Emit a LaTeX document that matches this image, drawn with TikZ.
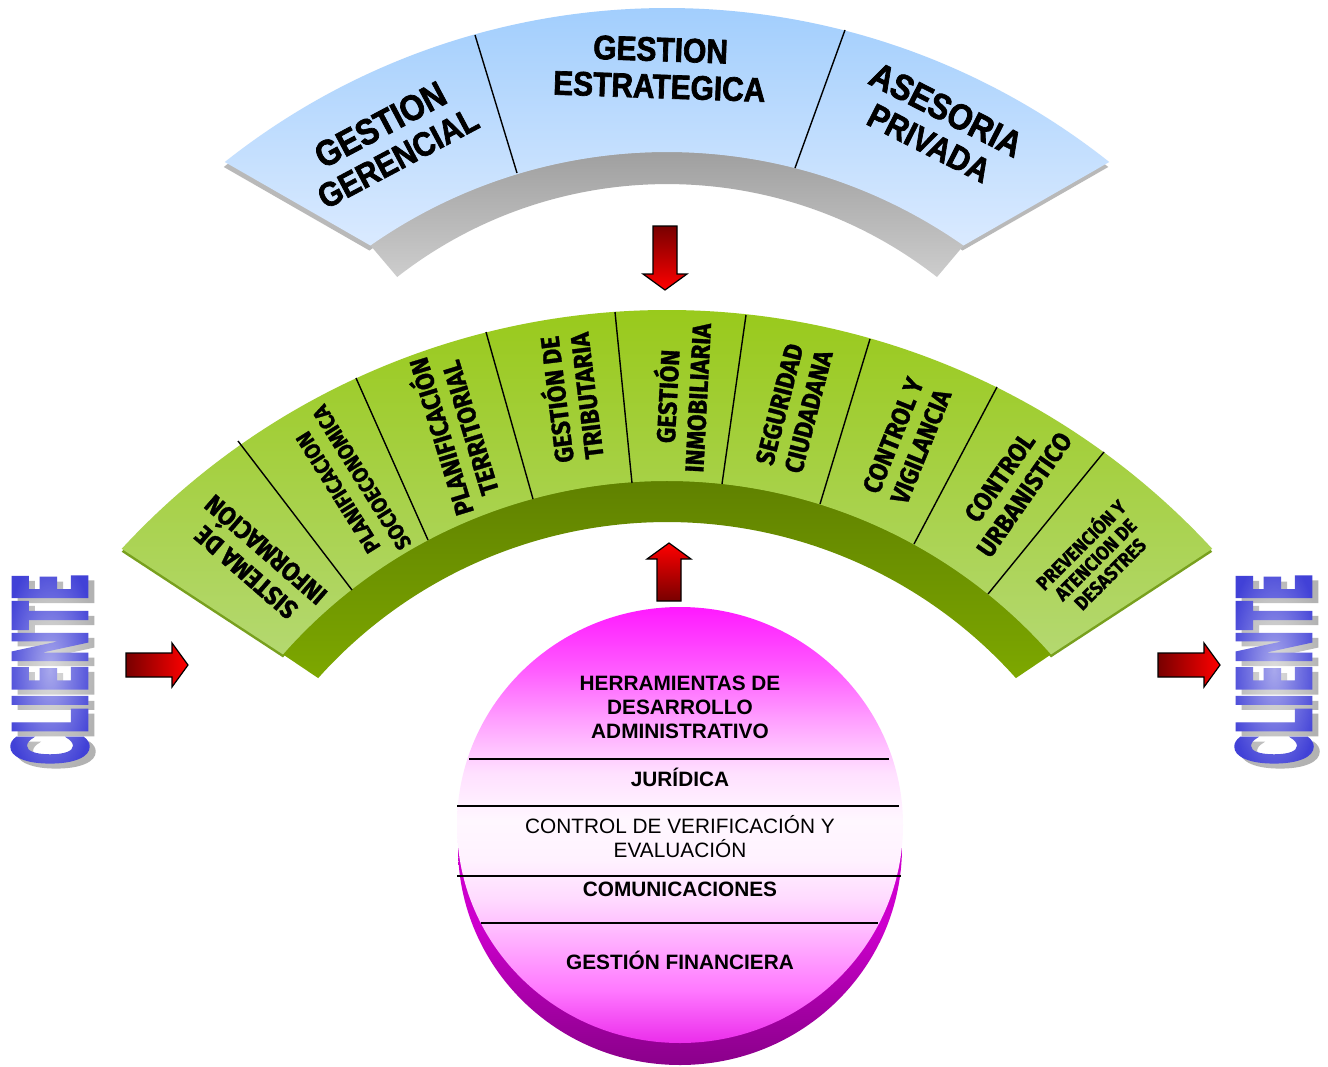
\documentclass[tikz,border=0pt]{standalone}
\usepackage{fontspec}
\usepackage{graphicx}
\setmainfont{Liberation Sans}
\newfontfamily\topfont[FakeStretch=0.88,FakeBold=2]{Liberation Sans}
\newfontfamily\gfont[FakeStretch=0.92,FakeBold=1.2]{Fira Sans}
\newfontfamily\clifont[FakeBold=3]{DejaVu Sans}
\usetikzlibrary{calc,fadings}

\definecolor{blueTop}{RGB}{150,200,252}
\definecolor{blueBot}{RGB}{218,234,255}
\definecolor{greyTop}{RGB}{148,148,148}
\definecolor{greyBot}{RGB}{205,205,205}
\definecolor{greenTop}{RGB}{150,200,18}
\definecolor{greenBot}{RGB}{180,216,112}
\definecolor{greenEdge}{RGB}{120,160,30}
\definecolor{dgreenTop}{RGB}{92,124,0}
\definecolor{dgreenBot}{RGB}{125,168,0}
\definecolor{arrowDark}{RGB}{120,0,0}
\definecolor{arrowRed}{RGB}{255,0,0}
\definecolor{cliBlue}{RGB}{65,65,215}
\definecolor{cliShadow}{RGB}{178,178,178}
\definecolor{mA}{RGB}{235,45,235}
\definecolor{mB}{RGB}{255,120,255}
\definecolor{mC}{RGB}{255,178,255}
\definecolor{mD}{RGB}{255,218,255}
\definecolor{mE}{RGB}{255,242,255}
\definecolor{mF}{RGB}{255,247,255}
\definecolor{mG}{RGB}{255,224,255}
\definecolor{mH}{RGB}{255,160,255}
\definecolor{mI}{RGB}{255,90,255}
\definecolor{mJ}{RGB}{255,25,255}
\definecolor{pA}{RGB}{120,0,120}
\definecolor{pB}{RGB}{138,0,138}
\definecolor{pC}{RGB}{170,0,170}
\definecolor{pD}{RGB}{205,0,205}

\pgfdeclareverticalshading{discface}{100bp}{color(0bp)=(mA); color(25bp)=(mA); color(31bp)=(mB); color(37bp)=(mC); color(41.5bp)=(mD); color(46bp)=(mE); color(50.5bp)=(mF); color(56bp)=(mG); color(62bp)=(mH); color(68bp)=(mI); color(75bp)=(mJ); color(100bp)=(mJ)}
\pgfdeclareverticalshading{discside}{100bp}{color(0bp)=(pA); color(25bp)=(pB); color(33bp)=(pC); color(41bp)=(pD); color(100bp)=(pD)}
\tikzfading[name=cliglow, inner color=transparent!45, outer color=transparent!100]

\begin{document}
\begin{tikzpicture}[x=1pt,y=-1pt,
  toplabel/.style={font=\topfont\bfseries\fontsize{34}{37}\selectfont, align=center, inner sep=0pt},
  glabel/.style={font=\gfont\bfseries\fontsize{26}{30}\selectfont, align=center, inner sep=0pt},
  clabel/.style={font=\bfseries\fontsize{20.8}{24}\selectfont, align=center, inner sep=0pt},
  divider/.style={draw=black, line width=1.4pt},
  sepline/.style={draw=black, line width=1.8pt},
  blockarrow/.style={draw=black, line width=1.2pt, line join=miter},
  cliword/.style={inner sep=0pt, rotate=90},
]
\fill[white] (0,0) rectangle (1328,1066);
\useasboundingbox (0,0) rectangle (1328,1066);

% ================= top (blue) band =================
\begin{scope}[shift={(-1,5)}]
\fill[gray!55] (224.8,162) arc[start angle=-128.4,end angle=-51.6,radius=712]
   -- (963.5,245.5) arc[start angle=-55,end angle=-125,radius=517] -- cycle;
\end{scope}
\path[top color=greyTop, bottom color=greyBot] (370.5,245.5) arc[start angle=-125,end angle=-55,radius=517]
   -- (937,277) arc[start angle=-52,end angle=-128,radius=438.4] -- cycle;
\path[top color=blueTop, bottom color=blueBot] (224.8,162) arc[start angle=-128.4,end angle=-51.6,radius=712]
   -- (963.5,245.5) arc[start angle=-55,end angle=-125,radius=517] -- cycle;
\draw[divider] (475,35) -- (517,173);
\draw[divider] (845,30) -- (795,168);

\node[toplabel, rotate=28] (tgg) at (389,141) {\fontsize{36}{43}\selectfont GESTION\\GERENCIAL};
\node[toplabel, rotate=-2] (tge) at (660,68) {GESTION\\ESTRATEGICA};
\node[toplabel, rotate=-27] (tap) at (938,126) {\fontsize{36}{38}\selectfont ASESORIA\\PRIVADA};

% ================= middle (green) band =================
\begin{scope}[shift={(0,3)}]
\fill[greenEdge] (121.7,548.8) arc[start angle=-137.3,end angle=-42.7,radius=742]
   -- (1051,654.4) arc[start angle=-41.4,end angle=-138.6,radius=512] -- cycle;
\end{scope}
\path[top color=dgreenTop, bottom color=dgreenBot] (283,654.4) arc[start angle=-138.6,end angle=-41.4,radius=512]
   -- (1015.9,678.1) arc[start angle=-41.8,end angle=-138.2,radius=468] -- cycle;
\path[top color=greenTop, bottom color=greenBot] (121.7,548.8) arc[start angle=-137.3,end angle=-42.7,radius=742]
   -- (1051,654.4) arc[start angle=-41.4,end angle=-138.6,radius=512] -- cycle;

\draw[divider] (238,441) -- (352,590);
\draw[divider] (356,378) -- (428,540);
\draw[divider] (486,332) -- (533,499);
\draw[divider] (615,312) -- (632,483);
\draw[divider] (746,315) -- (722,484);
\draw[divider] (870,339) -- (820,504);
\draw[divider] (997,387) -- (914,544);
\draw[divider] (1104,452) -- (988,594);

\node[glabel, rotate=139] (g1) at (256,561) {SISTEMA DE\\INFORMACIÓN};
\node[glabel, rotate=122, font=\gfont\bfseries\fontsize{22}{28}\selectfont] (g2) at (350,485) {PLANIFICACION\\SOCIOECONOMICA};
\node[glabel, rotate=107] (g3) at (453,433) {PLANIFICACIÓN\\TERRITORIAL};
\node[glabel, rotate=97] (g4) at (569,398) {GESTIÓN DE\\TRIBUTARIA};
\node[glabel, rotate=87] (g5) at (680,397) {GESTIÓN\\INMOBILIARIA};
\node[glabel, rotate=75.5] (g6) at (794,408) {SEGURIDAD\\CIUDADANA};
\node[glabel, rotate=68] (g7) at (907,441) {CONTROL Y\\VIGILANCIA};
\node[glabel, rotate=55] (g8) at (1012,486) {CONTROL\\URBANISTICO};
\node[glabel, rotate=45, font=\gfont\bfseries\fontsize{19.5}{20.5}\selectfont] (g9) at (1094,558) {PREVENCIÓN Y\\ATENCION DE\\DESASTRES};

% ================= block arrows =================
\path[blockarrow, top color=arrowDark, bottom color=arrowRed]
  (653,226) -- (677,226) -- (677,274) -- (687,274) -- (665,290) -- (643,274) -- (653,274) -- cycle;
\path[blockarrow, top color=arrowRed, bottom color=arrowDark]
  (669,543) -- (691,559) -- (681,559) -- (681,601) -- (657,601) -- (657,559) -- (647,559) -- cycle;
\path[blockarrow, left color=arrowDark, right color=arrowRed]
  (126,653) -- (172,653) -- (172,643) -- (188,665) -- (172,687) -- (172,677) -- (126,677) -- cycle;
\path[blockarrow, left color=arrowDark, right color=arrowRed]
  (1158,653) -- (1204,653) -- (1204,643) -- (1220,665) -- (1204,687) -- (1204,677) -- (1158,677) -- cycle;

% ================= disc =================
\path[shading=discside] (680,847) ellipse[x radius=222,y radius=218];
\path[shading=discface] (680,825) ellipse[x radius=223,y radius=218];
\draw[sepline] (469,759) -- (889,759);
\draw[sepline] (457,806) -- (899,806);
\draw[sepline] (457,876) -- (901,876);
\draw[sepline] (481,923) -- (878,923);

\node[clabel] (herr) at (680,707) {HERRAMIENTAS DE\\DESARROLLO\\ADMINISTRATIVO};
\node[clabel, anchor=base] (jur) at (680,786) {JURÍDICA};
\node[clabel, font=\fontsize{20.8}{24}\selectfont] (ctrl) at (680,837) {CONTROL DE VERIFICACIÓN Y\\EVALUACIÓN};
\node[clabel, anchor=base] (com) at (680,896) {COMUNICACIONES};
\node[clabel, anchor=base] (fin) at (680,969) {GESTIÓN FINANCIERA};

% ================= CLIENTE =================
\node[cliword, text=cliShadow] (cls) at (56,674) {\resizebox{192pt}{75pt}{\clifont\bfseries CLIENTE}};
\node[cliword, text=cliBlue] (cl) at (50,669) {\resizebox{192pt}{75pt}{\clifont\bfseries CLIENTE}};
\fill[white, path fading=cliglow] (50,669) ellipse[x radius=48,y radius=115];
\node[cliword, text=cliShadow] (crs) at (1280,674) {\resizebox{192pt}{75pt}{\clifont\bfseries CLIENTE}};
\node[cliword, text=cliBlue] (cr) at (1274,669) {\resizebox{192pt}{75pt}{\clifont\bfseries CLIENTE}};
\fill[white, path fading=cliglow] (1274,669) ellipse[x radius=48,y radius=115];
\end{tikzpicture}
\end{document}
